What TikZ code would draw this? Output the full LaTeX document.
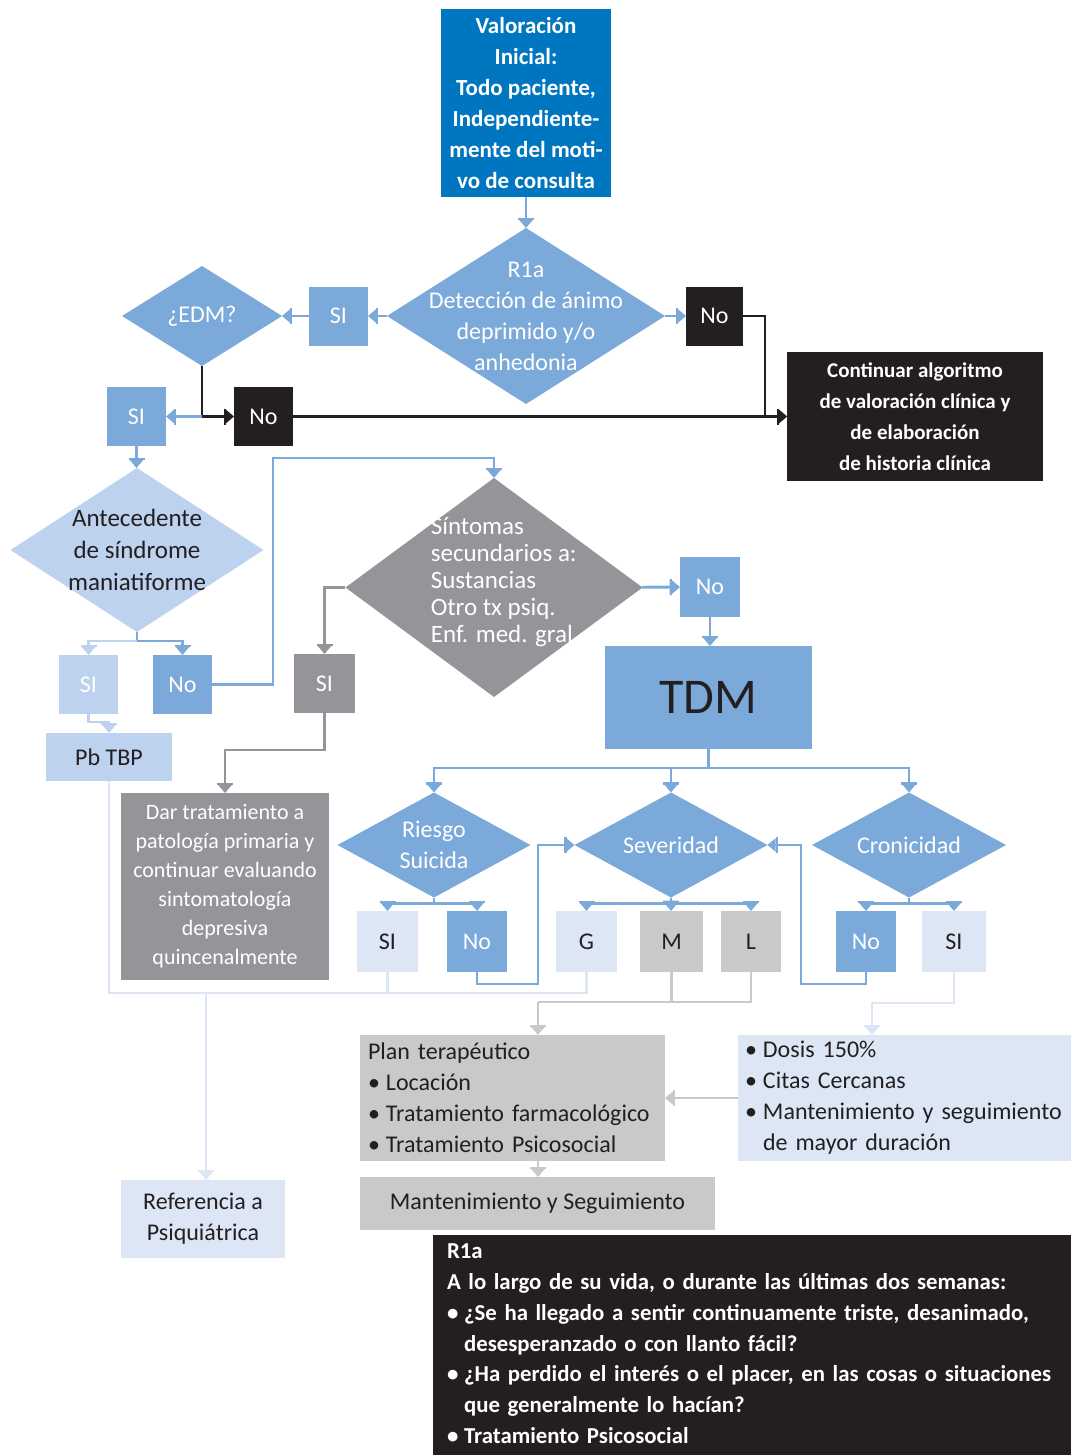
\documentclass[tikz,border=0pt]{standalone}
\usepackage{fontspec}
\setmainfont{Carlito}
\usetikzlibrary{shapes.geometric,arrows.meta}

\definecolor{azulosc}{HTML}{0076C0}
\definecolor{azul}{HTML}{7BA9DA}
\definecolor{azulcl}{HTML}{BDD2EE}
\definecolor{azulvcl}{HTML}{DCE6F5}
\definecolor{negro}{HTML}{231F20}
\definecolor{gris}{HTML}{939598}
\definecolor{griscl}{HTML}{C8C9CB}

\newcommand{\pto}{\makebox[0.75em][l]{\textbullet}}
\newcommand{\sang}{\hspace*{0.75em}}

\begin{document}
\begin{tikzpicture}[x=0.5pt,y=-0.5pt,
  font=\fontsize{12}{15.5}\selectfont,
  caja/.style={rectangle, inner sep=0pt, outer sep=0pt, align=center},
  rombo/.style={diamond, inner sep=0pt, outer sep=0pt},
  wh/.style 2 args={minimum width=#1*0.5pt, minimum height=#2*0.5pt},
  ft/.tip={Bar[width=8pt,line width=1.2pt] Triangle[width=6.5pt,length=4pt]},
  lin/.style={line width=1.4pt},
  fl/.style={lin,-{ft}}]
\useasboundingbox (0,0) rectangle (1071,1455);

% entrada
\node[caja, wh={170}{188}, fill=azulosc, text=white, font=\fontsize{11.5}{15.5}\selectfont\bfseries] (val) at (526,103)
  {Valoración\\Inicial:\\Todo paciente,\\Independiente-\\mente del moti-\\vo de consulta};
\node[rombo, wh={278}{176}, fill=azul,
  label={[text=white,align=center]center:{R1a\\Detección de ánimo\\deprimido y/o\\anhedonia}}] (ria) at (526,316) {};
\node[caja, wh={59}{59}, fill=azul, text=white] (si1) at (338.5,316) {SI};
\node[rombo, wh={160}{100}, fill=azul, label={[text=white]center:¿EDM?}] (edm) at (202,316) {};
\node[caja, wh={57}{59}, fill=negro, text=white] (no1) at (714.5,316) {No};
\node[caja, wh={256}{129}, fill=negro, text=white, font=\fontsize{10.5}{15.5}\selectfont\bfseries] (cont) at (915,416.5)
  {Continuar algoritmo\\de valoración clínica y\\de elaboración\\de historia clínica};
\node[caja, wh={59}{59}, fill=azul, text=white] (si2) at (136.5,416.5) {SI};
\node[caja, wh={59}{59}, fill=negro, text=white] (no2) at (263.5,416.5) {No};

% antecedente
\node[rombo, wh={253}{164}, fill=azulcl,
  label={[text=negro,align=center,font=\fontsize{12.5}{16}\selectfont]center:{Antecedente\\de síndrome\\maniatiforme}}] (ante) at (137,550) {};
\node[caja, wh={59}{59}, fill=azulcl, text=white] (si3) at (88.5,684.5) {SI};
\node[caja, wh={59}{59}, fill=azul, text=white] (no3) at (182.5,684.5) {No};
\node[caja, wh={126}{48}, fill=azulcl, text=negro] (pbtbp) at (109,757) {Pb TBP};

% sintomas
\node[rombo, wh={297}{219}, fill=gris,
  label={[text=white,align=left,font=\fontsize{12.5}{13.5}\selectfont,xshift=5.5pt,yshift=2.75pt]center:{Síntomas\\secundarios a:\\Sustancias\\Otro tx psiq.\\Enf. med. gral.}}] (sint) at (494,587.5) {};
\node[caja, wh={61}{59}, fill=gris, text=white] (si4) at (324.5,683.5) {SI};
\node[caja, wh={208}{187}, fill=gris, text=white, font=\fontsize{11}{14.5}\selectfont] (dar) at (225,886.5)
  {Dar tratamiento a\\patología primaria y\\continuar evaluando\\sintomatología\\depresiva\\quincenalmente};
\node[caja, wh={60}{60}, fill=azul, text=white] (no4) at (710,587) {No};
\node[caja, wh={207}{103}, fill=azul, text=negro, font=\fontsize{25}{30}\selectfont] (tdm) at (708.5,697.5) {TDM};

% criterios
\node[rombo, wh={193}{105}, fill=azul, label={[text=white,align=center]center:{Riesgo\\Suicida}}] (ries) at (434,845) {};
\node[rombo, wh={193}{105}, fill=azul, label={[text=white]center:Severidad}] (sev) at (671,845) {};
\node[rombo, wh={194}{105}, fill=azul, label={[text=white]center:Cronicidad}] (cron) at (909,845) {};
\node[caja, wh={61}{61}, fill=azulvcl, text=negro] (rsi) at (387.5,941.5) {SI};
\node[caja, wh={60}{61}, fill=azul, text=white] (rno) at (477,941.5) {No};
\node[caja, wh={61}{61}, fill=azulvcl, text=negro] (g) at (586.5,941.5) {G};
\node[caja, wh={63}{61}, fill=griscl, text=negro] (m) at (671.5,941.5) {M};
\node[caja, wh={60}{61}, fill=griscl, text=negro] (l) at (751,941.5) {L};
\node[caja, wh={60}{61}, fill=azul, text=white] (cno) at (866,941.5) {No};
\node[caja, wh={64}{61}, fill=azulvcl, text=negro] (csi) at (954,941.5) {SI};

% manejo
\node[caja, wh={305}{126}, fill=griscl, text=negro, align=left, inner xsep=4pt, text width=144.5pt] (plan) at (512.5,1098)
  {Plan terapéutico\\\pto Locación\\\pto Tratamiento farmacológico\\\pto Tratamiento Psicosocial};
\node[caja, wh={333}{126}, fill=azulvcl, text=negro, align=left, inner xsep=3.5pt, text width=159.5pt] (dosis) at (904.5,1098)
  {\pto Dosis 150\%\\\pto Citas Cercanas\\\pto Mantenimiento y seguimiento\\\sang de mayor duración};
\node[caja, wh={164}{78}, fill=azulvcl, text=negro] (ref) at (203,1219) {Referencia a\\Psiquiátrica};
\node[caja, wh={355}{53}, fill=griscl, text=negro] (mant) at (537.5,1203.5) {Mantenimiento y Seguimiento};
\node[caja, wh={638}{220}, fill=negro, text=white, align=left, inner xsep=7pt, text width=305pt,
  font=\fontsize{11.4}{15.4}\selectfont\bfseries] (nota) at (752,1345)
  {\begin{tabular}{@{}l@{}}
   R1a\\
   A lo largo de su vida, o durante las últimas dos semanas:\\
   \pto ¿Se ha llegado a sentir continuamente triste, desanimado,\\
   \sang desesperanzado o con llanto fácil?\\
   \pto ¿Ha perdido el interés o el placer, en las cosas o situaciones\\
   \sang que generalmente lo hacían?\\
   \pto Tratamiento Psicosocial
   \end{tabular}};

% conectores
\draw[fl,azul] (val) -- (ria);
\draw[fl,azul] (ria) -- (si1);
\draw[fl,azul] (si1) -- (edm);
\draw[fl,azul] (ria) -- (no1);
\draw[fl,negro] (no1.east) -- ++(22,0) |- (cont.west);
\coordinate (j1) at (edm.south |- si2.east);
\draw[lin,negro] (edm.south) -- (j1);
\draw[fl,negro] (j1) -- (no2);
\draw[fl,azul] (j1) -- (si2);
\draw[fl,negro] (no2) -- (cont);
\draw[fl,azul] (si2) -- (si2 |- ante.north);
\draw[lin,azul] (ante.south) -- ++(0,9) coordinate (j2);
\draw[fl,azulcl] (j2) -| (si3);
\draw[fl,azul] (j2) -| (no3);
\draw[fl,azulcl] (si3.south) -- ++(0,8) -| (pbtbp);
\coordinate (c1) at (273,458);
\draw[fl,azul] (no3) -| (c1) -| (sint);
\draw[fl,gris] (sint) -| (si4);
\draw[fl,gris] (si4.south) -- ++(0,37) -| (dar);
\draw[fl,azul] (sint) -- (no4);
\draw[fl,azul] (no4) -- (no4 |- tdm.north);
\draw[lin,azul] (tdm.south) -- ++(0,19) coordinate (j3);
\draw[fl,azul] (j3) -| (ries);
\draw[fl,azul] (j3) -| (sev);
\draw[fl,azul] (j3) -| (cron);
\draw[lin,azul] (ries.south) -- ++(0,6) coordinate (j4);
\draw[fl,azul] (j4) -| (rsi);
\draw[fl,azul] (j4) -| (rno);
\draw[lin,azul] (sev.south) -- ++(0,6) coordinate (j5);
\draw[fl,azul] (j5) -| (g);
\draw[fl,azul] (j5) -- (m);
\draw[fl,azul] (j5) -| (l);
\draw[lin,azul] (cron.south) -- ++(0,6) coordinate (j6);
\draw[fl,azul] (j6) -| (cno);
\draw[fl,azul] (j6) -| (csi);
\draw[fl,azul] (rno.south) -- ++(0,12) -- ++(61,0) |- (sev);
\draw[fl,azul] (cno.south) -- ++(0,12) -- ++(-65,0) |- (sev);
\coordinate (r1) at (206,993);
\draw[lin,azulvcl] (pbtbp.south) |- (g.south |- r1) -- (g.south);
\draw[lin,azulvcl] (rsi.south) -- (rsi.south |- r1);
\draw[fl,azulvcl] (r1) -- (r1 |- ref.north);
\coordinate (j7) at (538,1002);
\draw[lin,griscl] (l.south) |- (j7);
\draw[lin,griscl] (m.south) -- (m.south |- j7);
\draw[fl,griscl] (j7) -- (j7 |- plan.north);
\coordinate (j8) at (872,1003);
\draw[fl,azulvcl] (csi.south) |- (j8) -- (j8 |- dosis.north);
\draw[fl,griscl] (dosis) -- (plan);
\draw[fl,griscl] (j7 |- plan.south) -- (j7 |- mant.north);
\end{tikzpicture}
\end{document}
